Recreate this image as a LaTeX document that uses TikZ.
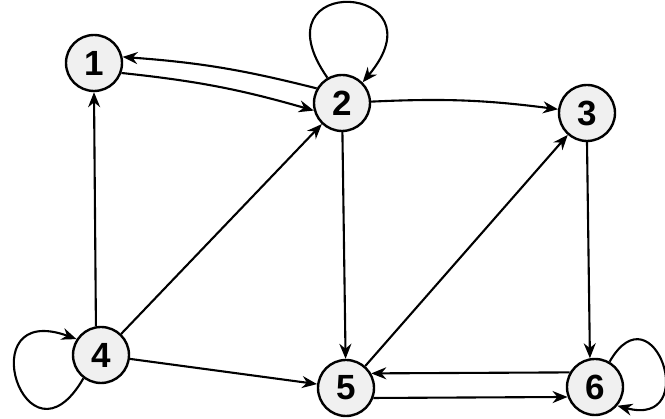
\documentclass[tikz,border=0pt]{standalone}
\usepackage{fontspec}
\setmainfont{Liberation Sans}
\usetikzlibrary{arrows.meta}
\tikzstyle{vertex} = [circle, minimum size=56pt, inner sep=0pt, draw=black, line width=2.4pt, fill=gray!12, font=\fontsize{35}{35}\selectfont\bfseries]
\tikzstyle{arrow} = [line width=2.1pt,->,>={Stealth[length=15pt,width=12pt]}]

\begin{document}
\begin{tikzpicture}[x=1pt, y=1pt, node distance=285pt]
      \useasboundingbox (0,0) rectangle (665,419);

      \node (n1) [vertex] at (94,356) {1};
      \node (n2) [vertex] at (342,316) {2};
      \node (n3) [vertex] at (587,306) {3};
      \node (n4) [vertex, below of=n1, xshift=7pt, yshift=-7pt] {4};
      \node (n5) [vertex, below of=n2, xshift=4pt] {5};
      \node (n6) [vertex, below of=n3, xshift=8pt, yshift=11pt] {6};

      \draw [arrow] (n1.-20) to[bend left=5] (n2.195);
      \draw [arrow] (n2.150) to[bend right=5] (n1.12);
      \draw [arrow] (n2) to[bend left=5] (n3);
      \draw [arrow] (n2) -- (n5);
      \draw [arrow] (n3.south) -- (n6.100);
      \draw [arrow] (n4.100) -- (n1.south);
      \draw [arrow] (n4) -- (n2);
      \draw [arrow] (n4) -- (n5);
      \draw [arrow] (n5) -- (n3);
      \draw [arrow] (n5.-20) -- (n6.200);
      \draw [arrow] (n6.150) -- (n5.30);
      % self loops
      \draw [arrow] (n2.120) to[out=125, in=50, distance=130pt] (n2.45);
      \draw [arrow] (n4.233) to[out=240, in=160, distance=115pt] (n4.147);
      \draw [arrow] (n6.60) to[out=60, in=-15, distance=88pt] (n6.-40);
    \end{tikzpicture}
\end{document}
